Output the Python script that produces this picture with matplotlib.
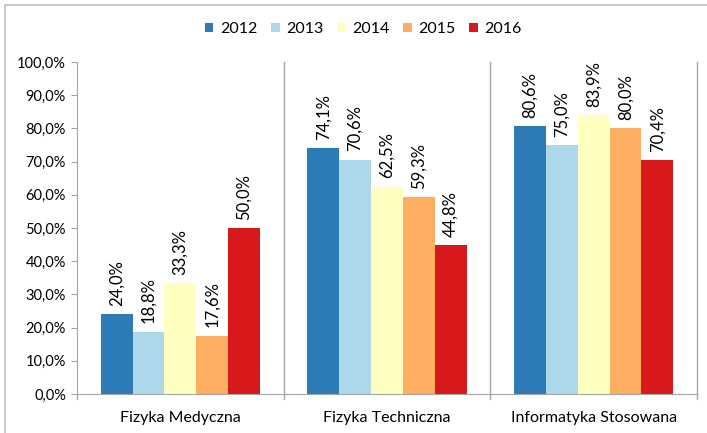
import matplotlib.pyplot as plt
import numpy as np
from matplotlib.patches import Rectangle

# Data
categories = ["Fizyka Medyczna", "Fizyka Techniczna", "Informatyka Stosowana"]
years = ["2012", "2013", "2014", "2015", "2016"]
values = {
    "2012": [24.0, 74.1, 80.6],
    "2013": [18.8, 70.6, 75.0],
    "2014": [33.3, 62.5, 83.9],
    "2015": [17.6, 59.3, 80.0],
    "2016": [50.0, 44.8, 70.4],
}
colors = ["#2c7bb6", "#abd9e9", "#ffffbf", "#fdae61", "#d7191c"]

plt.rcParams['font.family'] = ['Lato', 'DejaVu Sans']

W, H = 707, 433
fig = plt.figure(figsize=(W / 100, H / 100), dpi=100)
ax = fig.add_axes([77 / W, 1 - 394 / H, (697 - 77) / W, (394 - 62) / H])

# outer chart border (only left/top edges fall inside the picture)
fig.patches.append(Rectangle((5 / W, -0.1), 1.2, 1 - 5 / H + 0.1, transform=fig.transFigure,
                             fill=False, edgecolor="#bfbfbf", linewidth=1.2))

bw = 0.154
x = np.arange(len(categories))
for i, yr in enumerate(years):
    pos = x + (i - 2) * bw
    bars = ax.bar(pos, values[yr], width=bw, color=colors[i], label=yr, zorder=2)
    for b, v in zip(bars, values[yr]):
        ax.annotate(f"{v:.1f}%".replace(".", ","), (b.get_x() + b.get_width() / 2, v),
                    xytext=(0, 6), textcoords="offset points", rotation=90,
                    ha="center", va="bottom", fontsize=12)

ax.set_xlim(-0.5, len(categories) - 0.5)
ax.set_ylim(0, 100)
ax.set_yticks(np.arange(0, 101, 10))
ax.set_yticklabels([f"{t:.1f}%".replace(".", ",") for t in np.arange(0, 101, 10)], fontsize=10.5)
ax.set_xticks(x)
ax.set_xticklabels(categories, fontsize=11.5)
ax.tick_params(axis="x", length=0, pad=12)
ax.tick_params(axis="y", length=4, color="#a6a6a6", pad=4)

# category separators and bottom ticks
for sep in [0.5, 1.5, 2.5]:
    ax.plot([sep, sep], [0, 100], color="#a6a6a6", linewidth=1, zorder=1, clip_on=False)
for sep in [-0.5, 0.5, 1.5, 2.5]:
    ax.plot([sep, sep], [0, -1.6], color="#a6a6a6", linewidth=1, clip_on=False)

for s in ["top", "right"]:
    ax.spines[s].set_visible(False)
ax.spines["left"].set_color("#a6a6a6")
ax.spines["bottom"].set_color("#a6a6a6")

leg = fig.legend(loc="center", bbox_to_anchor=(363 / W, 1 - 29 / H), ncol=5, frameon=False,
                 fontsize=11.5, handlelength=0.55, handleheight=0.55, handletextpad=0.4,
                 columnspacing=0.85)

fig.savefig("out.png", dpi=100)
